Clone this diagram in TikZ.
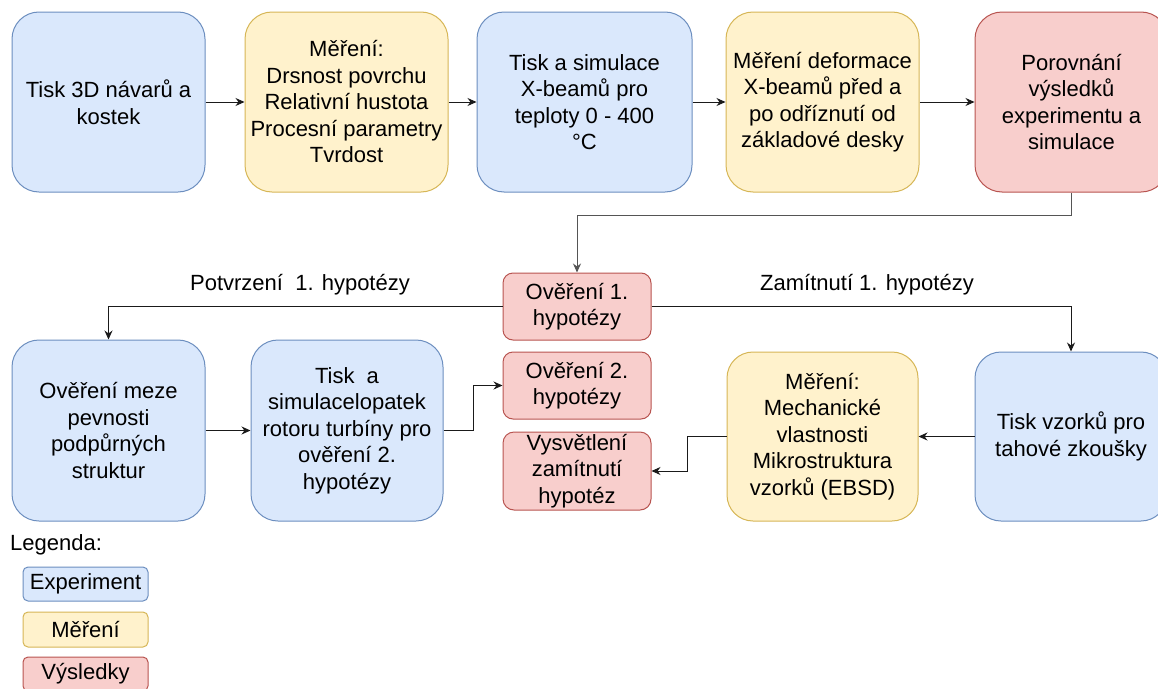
\documentclass[tikz,border=0pt]{standalone}
\usepackage{fontspec}
\setmainfont{Liberation Sans}
\usetikzlibrary{arrows.meta}
\definecolor{bfill}{HTML}{DAE8FC}
\definecolor{bline}{HTML}{6C8EBF}
\definecolor{yfill}{HTML}{FFF2CC}
\definecolor{yline}{HTML}{D6B656}
\definecolor{rfill}{HTML}{F8CECC}
\definecolor{rline}{HTML}{B85450}
\definecolor{conn}{HTML}{1A1A1A}
\definecolor{conngray}{HTML}{555555}
\tikzset{
  txt/.style={font=\fontsize{22}{26.5}\selectfont, align=center, text=black},
  box/.style={txt, draw, line width=1pt, inner sep=1pt},
  bluebox/.style={box, fill=bfill, draw=bline},
  yelbox/.style={box, fill=yfill, draw=yline},
  redbox/.style={box, fill=rfill, draw=rline},
  arr/.style={draw=conn, line width=1pt, -{Stealth[length=9pt,width=8pt]}},
}
\begin{document}
\begin{tikzpicture}[x=1pt,y=-1pt]
\useasboundingbox (0,0) rectangle (1158,688);
% row 1
\node[bluebox, rounded corners=27pt, minimum width=193pt, minimum height=180pt] (b1) at (108.5,102) {Tisk 3D návarů a\\kostek};
\node[yelbox, rounded corners=27pt, minimum width=203pt, minimum height=180pt] (b2) at (346.5,102) {Měření:\\Drsnost povrchu\\Relativní hustota\\Procesní parametry\\Tvrdost};
\node[bluebox, rounded corners=27pt, minimum width=215pt, minimum height=180pt] (b3) at (584.5,102) {Tisk a simulace\\X-beamů pro\\teploty 0 - 400\\°C};
\node[yelbox, rounded corners=27pt, minimum width=193pt, minimum height=180pt] (b4) at (822.5,102) {Měření deformace\\X-beamů před a\\po odříznutí od\\základové desky};
\node[redbox, rounded corners=27pt, minimum width=193pt, minimum height=180pt] (b5) at (1071.5,102) {Porovnání\\výsledků\\experimentu a\\simulace};
% middle column
\node[redbox, rounded corners=10pt, minimum width=148pt, minimum height=67pt] (r1) at (577,306.5) {Ověření 1.\\hypotézy};
\node[redbox, rounded corners=10pt, minimum width=148pt, minimum height=67pt] (r2) at (577,385.5) {Ověření 2.\\hypotézy};
\node[redbox, rounded corners=11pt, minimum width=148pt, minimum height=78pt] (r3) at (577,471) {Vysvětlení\\zamítnutí\\hypotéz};
% row 2
\node[bluebox, rounded corners=27pt, minimum width=193pt, minimum height=181pt] (A) at (108.5,430.5) {Ověření meze\\pevnosti\\podpůrných\\struktur};
\node[bluebox, rounded corners=27pt, minimum width=192pt, minimum height=181pt] (B) at (347,430.5) {Tisk~ a\\simulacelopatek\\rotoru turbíny pro\\ověření 2.\\hypotézy};
\node[yelbox, rounded corners=26pt, minimum width=191pt, minimum height=169pt] (Y) at (822.5,436.5) {Měření:\\Mechanické\\vlastnosti\\Mikrostruktura\\vzorků (EBSD)};
\node[bluebox, rounded corners=26pt, minimum width=192pt, minimum height=169pt] (R) at (1071,436.5) {Tisk vzorků pro\\tahové zkoušky};
% labels
\node[txt] (lp) at (300,285) {Potvrzení~ 1. hypotézy};
\node[txt] (lz) at (867,285) {Zamítnutí 1. hypotézy};
% legend
\node[txt, anchor=west, inner sep=2pt] (leg) at (8,545) {Legenda:};
\node[bluebox, rounded corners=5pt, minimum width=125pt, minimum height=34pt] (l1) at (85.5,584) {Experiment};
\node[yelbox, rounded corners=5pt, minimum width=125pt, minimum height=35pt] (l2) at (85.5,629.5) {Měření};
\node[redbox, rounded corners=5pt, minimum width=125pt, minimum height=34pt] (l3) at (85.5,674) {Výsledky};
% connectors
\draw[arr] (b1.east) -- (b2.west);
\draw[arr] (b2.east) -- (b3.west);
\draw[arr] (b3.east) -- (b4.west);
\draw[arr] (b4.east) -- (b5.west);
\draw[arr, draw=conngray] (b5.south) -- ++(0,23) -| (r1.north);
\draw[arr] (r1.west) -| (A.north);
\draw[arr] (r1.east) -| (R.north);
\draw[arr] (A.east) -- (B.west);
\draw[arr] (B.east) -- ++(30,0) |- (r2.west);
\draw[arr] (R.west) -- (Y.east);
\draw[arr] (Y.west) -- ++(-39,0) |- (r3.east);
\end{tikzpicture}
\end{document}
